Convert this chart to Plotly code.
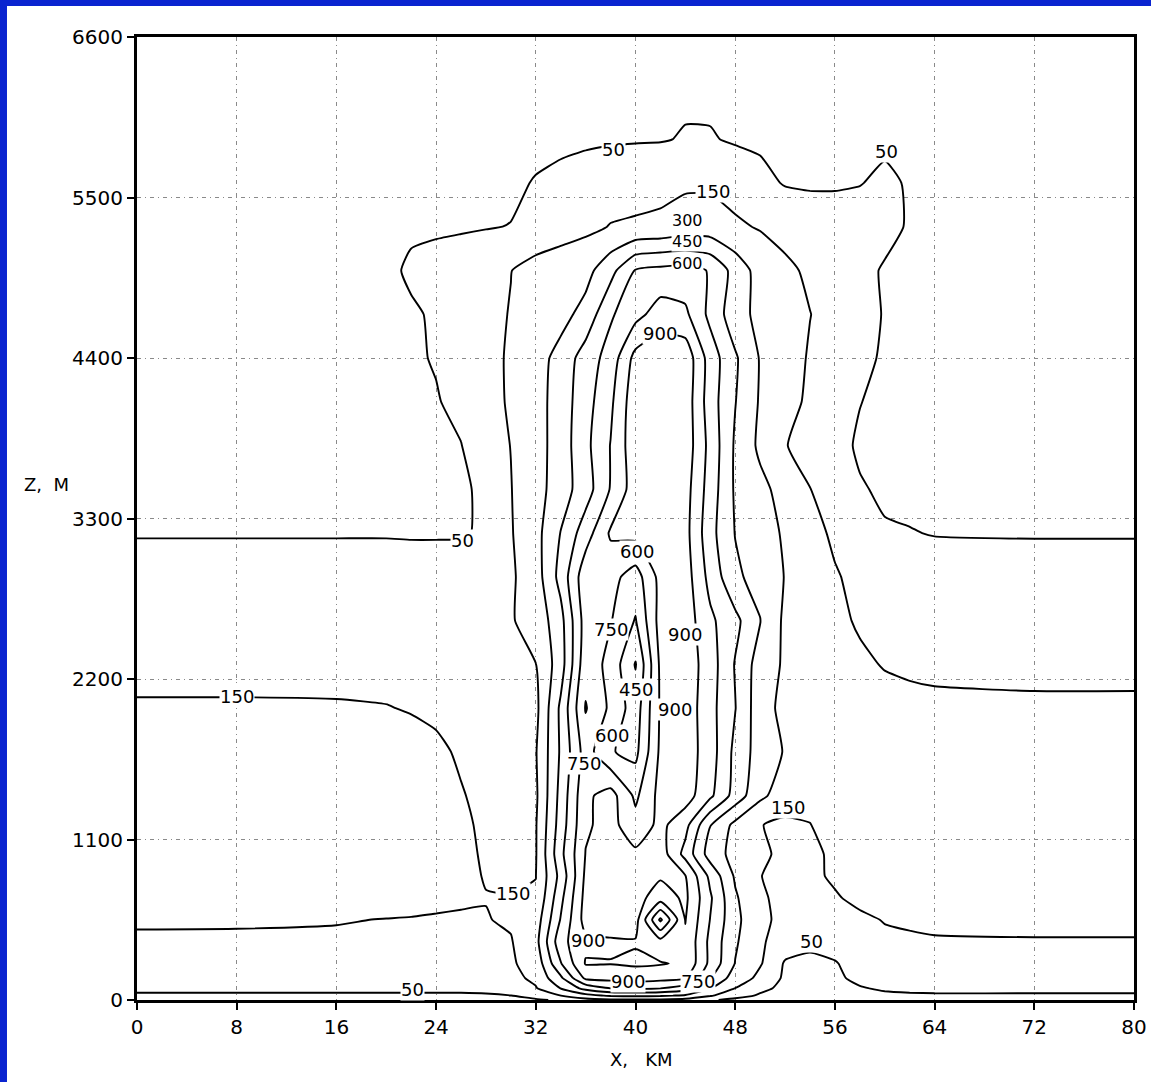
import plotly.graph_objects as go

# Horizontal distance (km) and height (m) of the grid nodes
x_km = [0, 8, 16, 20, 22, 24, 26, 28, 30, 32, 34, 36, 38, 40, 42, 44, 46, 48,
        50, 52, 54, 56, 58, 60, 62, 64, 72, 80]
z_m = [0, 30, 80, 150, 250, 400, 550, 700, 850, 1000, 1200, 1400, 1700, 2000,
       2300, 2600, 2900, 3200, 3500, 3800, 4100, 4400, 4700, 5000, 5300, 5600,
       5900, 6200, 6600]

# Field values, one row per height (bottom to top), one entry per x node
row_0 = [20, 20, 20, 20, 20, 20, 20, 22, 28, 40, 60, 100, 120, 130, 120, 100, 60, 30, 20, 10, 8, 10, 15, 18, 20, 20, 20, 20]
row_30 = [40, 40, 40, 40, 40, 40, 40, 42, 49, 80, 148, 250, 320, 330, 320, 280, 160, 80, 40, 20, 15, 20, 30, 38, 40, 42, 42, 42]
row_80 = [65, 65, 65, 65, 65, 65, 66, 70, 85, 140, 305, 500, 600, 620, 600, 520, 305, 148, 70, 30, 22, 30, 45, 58, 65, 67, 67, 67]
row_150 = [90, 90, 90, 90, 90, 90, 90, 95, 110, 180, 420, 780, 800, 820, 800, 760, 455, 220, 120, 35, 25, 38, 65, 85, 92, 95, 95, 95]
row_250 = [115, 115, 115, 115, 115, 115, 115, 118, 135, 200, 590, 910, 905, 920, 910, 880, 560, 295, 160, 40, 30, 45, 80, 105, 115, 118, 120, 120]
row_400 = [140, 140, 138, 135, 132, 130, 128, 130, 142, 250, 700, 870, 880, 890, 800, 880, 560, 320, 165, 100, 70, 80, 110, 130, 140, 145, 147, 147]
row_550 = [158, 157, 154, 148, 145, 138, 135, 145, 165, 220, 610, 960, 990, 960, 420, 905, 595, 340, 175, 120, 100, 105, 130, 155, 160, 162, 162, 162]
row_700 = [185, 185, 185, 185, 183, 180, 168, 153, 152, 162, 560, 950, 980, 960, 820, 930, 620, 320, 160, 130, 125, 140, 175, 188, 190, 190, 188, 188]
row_850 = [195, 195, 195, 195, 192, 185, 172, 145, 140, 148, 500, 930, 960, 950, 920, 905, 560, 280, 152, 125, 128, 165, 190, 200, 200, 200, 198, 198]
row_1000 = [205, 205, 205, 203, 200, 190, 170, 140, 130, 140, 560, 905, 960, 930, 980, 700, 380, 250, 175, 120, 125, 170, 200, 210, 210, 210, 208, 208]
row_1200 = [210, 210, 208, 205, 200, 190, 165, 135, 125, 140, 520, 880, 950, 800, 940, 800, 455, 260, 155, 120, 148, 185, 205, 212, 212, 212, 210, 210]
row_1400 = [208, 208, 205, 200, 195, 180, 155, 130, 125, 125, 500, 870, 960, 720, 950, 970, 780, 540, 330, 230, 175, 190, 205, 210, 210, 210, 208, 208]
row_1700 = [200, 200, 198, 190, 180, 165, 140, 125, 125, 140, 470, 820, 610, 560, 930, 980, 820, 560, 380, 290, 240, 215, 205, 200, 200, 200, 200, 200]
row_2000 = [160, 160, 158, 153, 145, 135, 125, 120, 115, 110, 480, 910, 720, 520, 920, 990, 800, 605, 360, 260, 220, 200, 190, 180, 175, 172, 168, 168]
row_2300 = [120, 120, 120, 120, 121, 122, 125, 128, 135, 148, 380, 850, 700, 440, 930, 990, 820, 590, 380, 280, 230, 195, 165, 145, 135, 128, 122, 122]
row_2600 = [95, 95, 95, 95, 96, 98, 100, 115, 140, 200, 400, 820, 760, 590, 960, 980, 780, 640, 455, 270, 220, 170, 140, 125, 115, 105, 95, 95]
row_2900 = [72, 72, 72, 72, 72, 72, 75, 90, 130, 230, 500, 850, 800, 680, 950, 970, 700, 480, 390, 295, 210, 160, 120, 100, 85, 75, 70, 70]
row_3200 = [47, 47, 47, 47, 46, 46, 46, 56, 140, 250, 455, 680, 920, 950, 1000, 950, 650, 445, 370, 280, 190, 130, 62, 56, 52, 48, 47, 47]
row_3500 = [35, 35, 35, 36, 38, 40, 44, 58, 146, 240, 380, 530, 760, 980, 1000, 960, 680, 430, 340, 245, 152, 110, 56, 40, 38, 36, 35, 35]
row_3800 = [25, 25, 26, 30, 34, 40, 48, 100, 152, 240, 370, 560, 755, 1000, 1020, 990, 700, 430, 270, 155, 110, 75, 40, 32, 30, 28, 25, 25]
row_4100 = [20, 20, 22, 28, 35, 45, 70, 120, 160, 240, 370, 540, 720, 1000, 1020, 990, 670, 455, 285, 190, 130, 90, 52, 32, 26, 24, 20, 20]
row_4400 = [18, 18, 20, 30, 40, 55, 90, 125, 160, 240, 350, 520, 660, 950, 1000, 1000, 680, 470, 290, 200, 140, 100, 70, 40, 25, 22, 18, 18]
row_4700 = [15, 15, 18, 30, 42, 58, 85, 120, 155, 200, 250, 350, 580, 700, 820, 780, 560, 360, 260, 200, 152, 110, 80, 45, 25, 20, 15, 15]
row_5000 = [12, 12, 15, 35, 60, 70, 80, 110, 148, 190, 220, 250, 400, 610, 640, 650, 590, 390, 240, 175, 130, 95, 65, 45, 30, 20, 12, 12]
row_5300 = [10, 10, 10, 28, 40, 42, 44, 46, 52, 75, 95, 120, 155, 165, 175, 210, 210, 170, 140, 110, 95, 85, 75, 65, 45, 22, 10, 10]
row_5600 = [8, 8, 8, 10, 12, 15, 18, 20, 35, 55, 70, 85, 95, 105, 115, 130, 130, 100, 70, 45, 40, 42, 48, 60, 45, 20, 8, 8]
row_5900 = [6, 6, 6, 8, 9, 10, 12, 15, 22, 28, 33, 38, 42, 44, 45, 55, 55, 42, 38, 33, 28, 30, 36, 40, 30, 12, 6, 6]
row_6200 = [5, 5, 5, 6, 6, 7, 8, 10, 14, 18, 22, 26, 30, 33, 36, 40, 38, 32, 26, 20, 16, 14, 12, 10, 7, 6, 5, 5]
row_6600 = [3, 3, 3, 3, 3, 3, 4, 5, 6, 7, 8, 9, 10, 11, 12, 13, 12, 10, 9, 8, 7, 6, 5, 4, 3, 3, 3, 3]

field = [row_0, row_30, row_80, row_150, row_250, row_400, row_550, row_700,
         row_850, row_1000, row_1200, row_1400, row_1700, row_2000, row_2300,
         row_2600, row_2900, row_3200, row_3500, row_3800, row_4100, row_4400,
         row_4700, row_5000, row_5300, row_5600, row_5900, row_6200, row_6600]

# Tick positions
x_ticks = [0, 8, 16, 24, 32, 40, 48, 56, 64, 72, 80]
z_ticks = [0, 1100, 2200, 3300, 4400, 5500, 6600]

# Contour labels: level text with its position (km, m)
label_text = ["50", "50", "150", "900", "50", "600", "750",
              "900", "150", "450", "900", "600", "750", "150", "150", "900", "50",
              "900", "750", "50"]
label_x = [38.2, 60.1, 46.2, 42.0, 26.1, 40.1, 38.0,
           44.0, 8.0, 40.0, 43.2, 38.1, 35.9, 52.2, 30.2, 36.2, 54.1,
           39.4, 45.0, 22.1]
label_z = [5826, 5812, 5538, 4565, 3146, 3077, 2536,
           2502, 2077, 2125, 1988, 1816, 1624, 1316, 733, 411, 398,
           130, 130, 69]

# Closely stacked labels near the top of the column
stack_text = ["300", "450", "600"]
stack_x = [44.2, 44.2, 44.2]
stack_z = [5345, 5198, 5051]

FONT = "DejaVu Sans"
line_style = dict(color="black", width=1.9, smoothing=0.5)

fig = go.Figure()
# lowest level drawn on its own, then the regular 150-step levels
fig.add_trace(go.Contour(
    x=x_km, y=z_m, z=field,
    contours=dict(coloring="none", start=50, end=50, size=100, showlabels=False),
    line=line_style, showscale=False, hoverinfo="skip"))
fig.add_trace(go.Contour(
    x=x_km, y=z_m, z=field,
    contours=dict(coloring="none", start=150, end=900, size=150, showlabels=False),
    line=line_style, showscale=False, hoverinfo="skip"))

annotations = []
for t, lx, lz in zip(label_text, label_x, label_z):
    annotations.append(dict(
        x=lx, y=lz, xref="x", yref="y", text=t, showarrow=False,
        xanchor="center", yanchor="middle",
        bgcolor="white", borderpad=0,
        font=dict(family=FONT, size=18, color="black")))
for t, lx, lz in zip(stack_text, stack_x, stack_z):
    annotations.append(dict(
        x=lx, y=lz, xref="x", yref="y", text=t, showarrow=False,
        xanchor="center", yanchor="middle",
        bgcolor="white", borderpad=0,
        font=dict(family=FONT, size=16, color="black")))

# axis titles
annotations.append(dict(x=-0.0905, y=0.535, xref="paper", yref="paper",
                        text="Z,\u00a0\u00a0M",
                        xanchor="center", yanchor="middle", showarrow=False,
                        font=dict(family=FONT, size=18, color="black")))
annotations.append(dict(x=0.506, y=-0.062, xref="paper", yref="paper",
                        text="X,\u00a0\u00a0\u00a0KM",
                        xanchor="center", yanchor="middle", showarrow=False,
                        font=dict(family=FONT, size=18, color="black")))

axis_common = dict(
    showline=True, linewidth=3, linecolor="black", mirror=True,
    ticks="outside", ticklen=7, tickwidth=2, tickcolor="black",
    showgrid=True, gridcolor="#8a8a8a", gridwidth=1, griddash="4px,4px,1px,4px",
    zeroline=False, automargin=False,
    tickfont=dict(family=FONT, size=20, color="black"),
)

fig.update_layout(
    width=1151, height=1082, autosize=False,
    margin=dict(l=137, r=17, t=37, b=82, autoexpand=False),
    paper_bgcolor="white", plot_bgcolor="white",
    showlegend=False,
    xaxis=dict(range=[0, 80], tickvals=x_ticks, **axis_common),
    yaxis=dict(range=[0, 6600], tickvals=z_ticks, **axis_common),
    annotations=annotations,
    shapes=[
        dict(type="rect", xref="paper", yref="paper", x0=-0.14, x1=-0.1304,
             y0=-0.1, y1=1.05, fillcolor="#0a24d0", line=dict(width=0), layer="above"),
        dict(type="rect", xref="paper", yref="paper", x0=-0.14, x1=1.02,
             y0=1.0322, y1=1.05, fillcolor="#0a24d0", line=dict(width=0), layer="above"),
    ],
)

fig.write_html("out.html")
